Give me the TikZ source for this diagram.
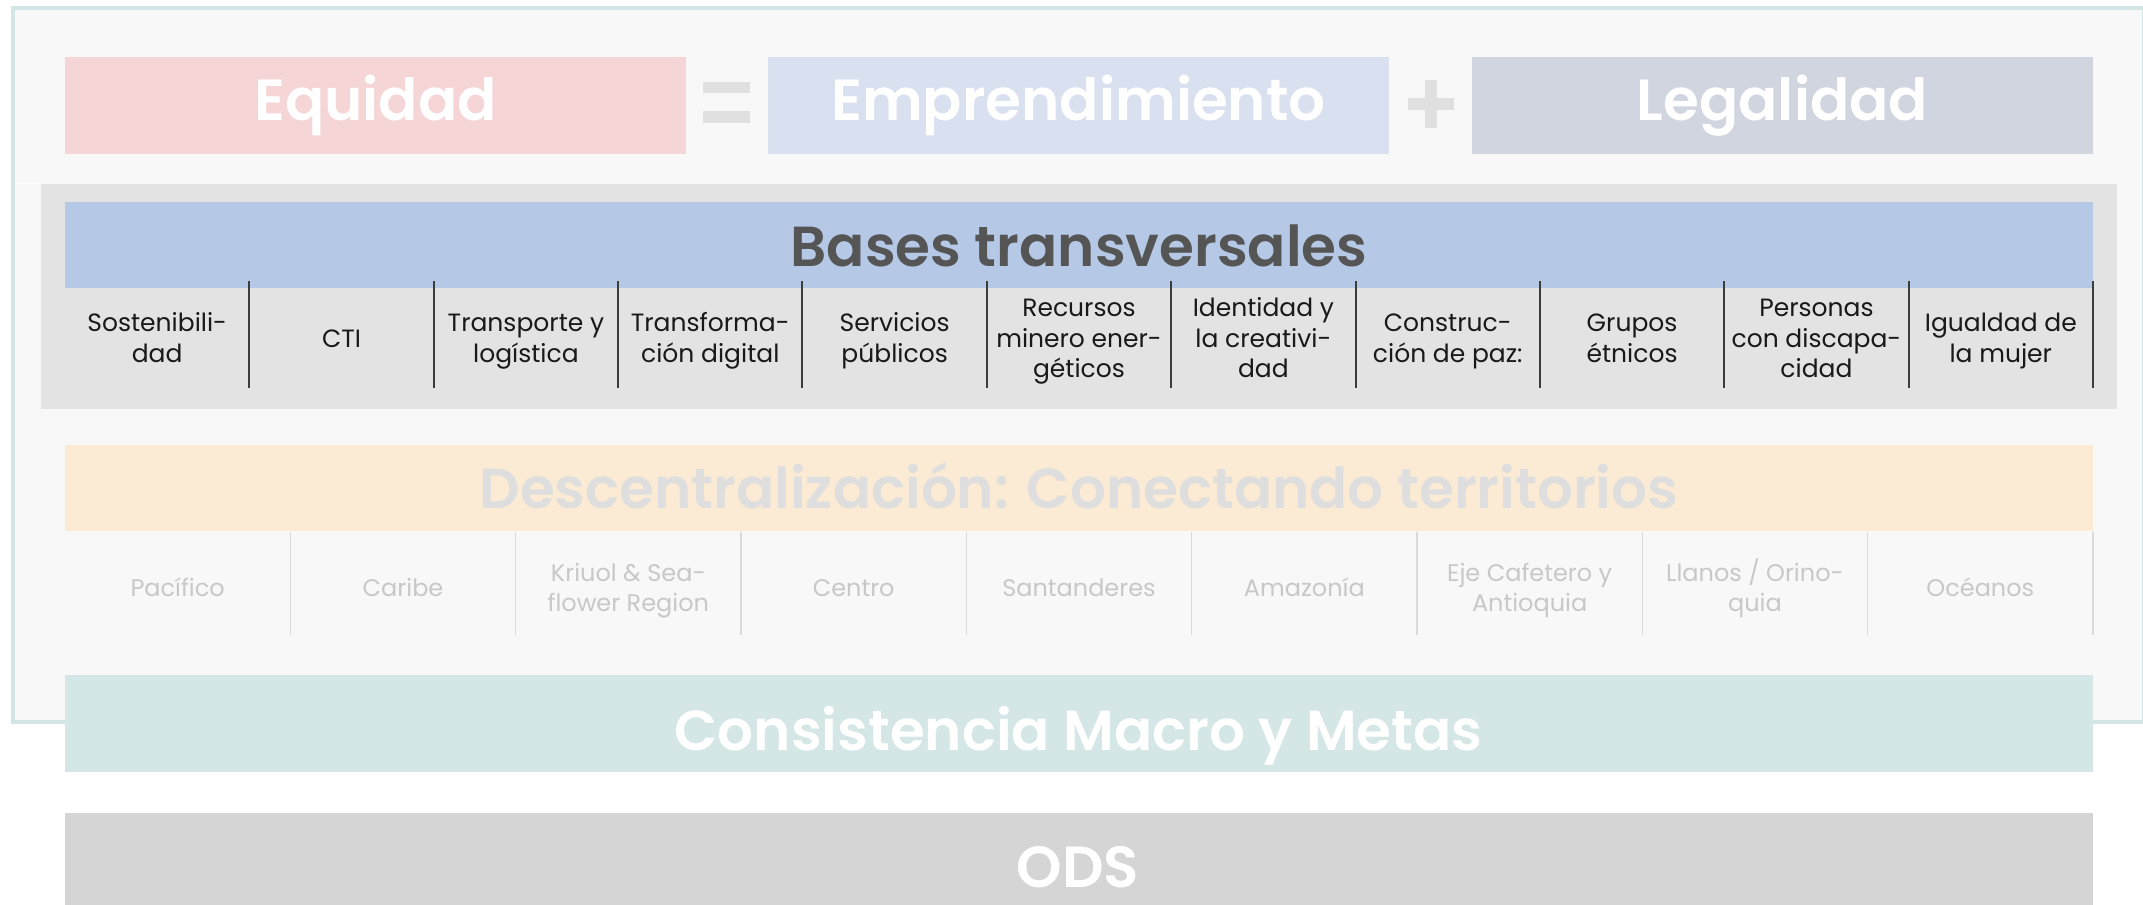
\documentclass[tikz,border=0pt]{standalone}
\usepackage{fontspec}
\setmainfont{Poppins}[BoldFont={Poppins SemiBold}]
\definecolor{panelbg}{HTML}{F8F8F8}
\definecolor{panelline}{HTML}{D4E5E5}
\definecolor{eqcol}{HTML}{F5D5D6}
\definecolor{emcol}{HTML}{D9E0EF}
\definecolor{legcol}{HTML}{D1D5DF}
\definecolor{signcol}{HTML}{E0E0E0}
\definecolor{contcol}{HTML}{E3E3E3}
\definecolor{bluecol}{HTML}{B5C9E7}
\definecolor{basestext}{HTML}{555555}
\definecolor{peachcol}{HTML}{FBEBD4}
\definecolor{desctext}{HTML}{DEDEDE}
\definecolor{regtext}{HTML}{C8C8C8}
\definecolor{regline}{HTML}{DADADA}
\definecolor{colline}{HTML}{3C3C3C}
\definecolor{tealcol}{HTML}{D4E6E5}
\definecolor{odscol}{HTML}{D5D5D5}
\newcommand\topstrut{\rule{0pt}{1.0em}}
\newcommand\botstrut{\rule[-0.3em]{0pt}{0.3em}}
\lineskiplimit=-50pt
\tikzset{
  bigtitle/.style={font=\bfseries\fontsize{29}{32}\selectfont, inner sep=0pt, anchor=base},
  widetitle/.style={font=\bfseries\fontsize{28.2}{32}\selectfont, inner sep=0pt, anchor=base},
  collabel/.style={font=\fontsize{12.5}{15.3}\selectfont, align=center, inner sep=0pt, text=black!90},
  reglabel/.style={font=\fontsize{12}{15}\selectfont, align=center, inner sep=0pt, text=regtext},
  colsep/.style={draw=colline, line width=1pt},
  regsep/.style={draw=regline, line width=0.75pt},
}
\begin{document}
\begin{tikzpicture}[x=0.5pt,y=-0.5pt]
\useasboundingbox (0,0) rectangle (2143,905);
\clip (0,0) rectangle (2143,905);
\fill[white] (0,0) rectangle (2143,905);
% outer panel
\path[fill=panelbg, draw=panelline, line width=1.75pt] (13,7.75) rectangle (2144,722);
\draw[white, line width=0.5pt] (15,183) -- (41,183);
% top row
\fill[eqcol] (65,57) rectangle (686,154);
\fill[emcol] (768,57) rectangle (1389,154);
\fill[legcol] (1472,57) rectangle (2093,154);
\fill[signcol] (703,81.7) rectangle (750,93.3);
\fill[signcol] (703,111) rectangle (750,122.7);
\fill[signcol] (1408,98) rectangle (1454,110);
\fill[signcol] (1425,80) rectangle (1437,128);
\node[bigtitle, text=white] (equidad) at (375.5,120) {Equidad};
\node[bigtitle, text=white] (empr) at (1078.5,120) {Emprendimiento};
\node[bigtitle, text=white] (legal) at (1782.5,120) {Legalidad};
% bases transversales
\fill[contcol] (41,184) rectangle (2117,409);
\fill[bluecol] (65,201.5) rectangle (2093,288);
\node[widetitle, text=basestext] (bases) at (1079,266) {Bases transversales};
\foreach \i in {1,...,11} {
  \draw[colsep] ({65+184.3636*\i},281) -- ({65+184.3636*\i},388);
}
\foreach \lab [count=\i] in {
  {Sostenibili-\\dad},
  {CTI},
  {Transporte y\\logística},
  {Transforma-\\ción digital},
  {Servicios\\públicos},
  {Recursos\\minero ener-\\géticos},
  {Identidad y\\la creativi-\\dad},
  {Construc-\\ción de paz:},
  {Grupos\\étnicos},
  {Personas\\con discapa-\\cidad},
  {Igualdad de\\la mujer}} {
  \node[collabel] (c\i) at ({65+184.3636*(\i-0.5)},338.25) {\topstrut\lab\botstrut};
}
% descentralizacion
\fill[peachcol] (65,445) rectangle (2093,531);
\node[widetitle, text=desctext] (desc) at (1079,508.3) {Descentralización: Conectando territorios};
\foreach \i in {1,...,9} {
  \draw[regsep] ({65+225.3333*\i},531.5) -- ({65+225.3333*\i},635);
}
\foreach \lab [count=\i] in {
  {Pacífico},
  {Caribe},
  {Kriuol \& Sea-\\flower Region},
  {Centro},
  {Santanderes},
  {Amazonía},
  {Eje Cafetero y\\Antioquia},
  {Llanos / Orino-\\quia},
  {Océanos}} {
  \node[reglabel] (r\i) at ({65+225.3333*(\i-0.5)},587.6) {\topstrut\lab\botstrut};
}
% consistencia
\fill[tealcol] (65,675) rectangle (2093,772);
\node[widetitle, text=white] (cons) at (1078.5,750) {Consistencia Macro y Metas};
% ODS
\fill[odscol] (65,813) rectangle (2093,930);
\node[bigtitle, text=white] (ods) at (1078,887) {ODS};
\end{tikzpicture}
\end{document}
